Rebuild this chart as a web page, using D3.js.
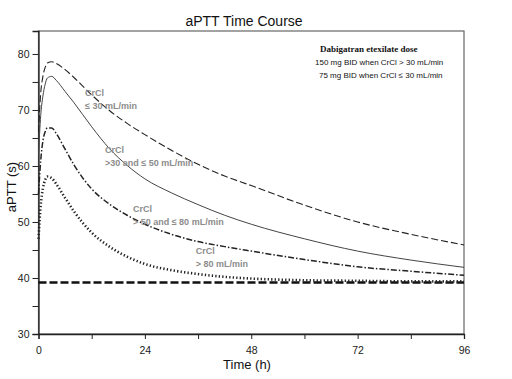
<!DOCTYPE html>
<html>
<head>
<meta charset="utf-8">
<script src="https://cdn.jsdelivr.net/npm/d3@7"></script>
<style>
  body { margin: 0; background: #fff; }
</style>
</head>
<body>
<svg id="chart" width="512" height="379" font-family='Arial, "Liberation Sans", sans-serif'></svg>
<script>
// Time points (h) shared by all curves
const hours = [0, 0.5, 1, 1.5, 2, 3, 4, 6, 8, 12, 16, 20, 24, 30, 36, 42, 48, 60, 72, 84, 96];

// aPTT (s) per renal function group
const crclLe30  = [66, 73, 76, 77.6, 78.4, 78.6, 78.3, 77.2, 75.8, 72.7, 69.9, 67.6, 65.6, 62.8, 60.3, 58.2, 56.5, 53.0, 50.0, 47.8, 45.9];
const crcl30_50 = [62, 69, 72.5, 74.6, 75.7, 76.0, 75.3, 73.3, 71.3, 67.0, 63.1, 60.1, 57.7, 55.2, 53.1, 51.2, 49.6, 47.0, 44.8, 43.2, 41.9];
const crcl50_80 = [55, 61, 64.5, 66.1, 66.8, 66.8, 65.8, 63.0, 60.2, 55.9, 53.2, 51.2, 49.6, 47.8, 46.5, 45.6, 44.8, 43.3, 42.0, 41.2, 40.5];
const crclGt80  = [47, 53, 56, 57.5, 58.1, 57.8, 56.8, 54.3, 51.9, 48.1, 45.6, 43.8, 42.5, 41.4, 40.7, 40.2, 39.9, 39.6, 39.5, 39.4, 39.4];
const baseline  = 39.2;   // pre-dose aPTT

// Axis ticks
const xTicks = [0, 12, 24, 36, 48, 60, 72, 84, 96];
const yTicks = [30, 35, 40, 45, 50, 55, 60, 65, 70, 75, 80];

// Curve labels
const labelText = [
  ['CrCl', '\u2264 30 mL/min'],
  ['CrCl', '>30 and \u2264 50 mL/min'],
  ['CrCl', '> 50 and \u2264 80 mL/min'],
  ['CrCl', '> 80 mL/min']
];
const labelAt = [[10.5, 72.5], [15, 62.3], [21.3, 51.8], [35.5, 44.3]];   // (h, s) of first line

const svg = d3.select('#chart');

const x = d3.scaleLinear().domain([0, 96]).range([38.5, 464]);
const y = d3.scaleLinear().domain([30, 84.1]).range([334, 31]);

// Plot frame
svg.append('rect')
  .attr('x', x(0)).attr('y', y(84.1))
  .attr('width', x(96) - x(0)).attr('height', y(30) - y(84.1))
  .attr('fill', 'none').attr('stroke', '#666').attr('stroke-width', 1.2);

// Axes
const xAxis = svg.append('g')
  .attr('transform', 'translate(0,' + y(30) + ')')
  .call(d3.axisBottom(x).tickValues(xTicks).tickSize(5).tickPadding(8)
    .tickFormat(d => d % 24 === 0 ? d : ''));
const yAxis = svg.append('g')
  .attr('transform', 'translate(' + x(0) + ',0)')
  .call(d3.axisLeft(y).tickValues(yTicks).tickSize(6).tickPadding(3)
    .tickFormat(d => d % 10 === 0 ? d : ''));

[xAxis, yAxis].forEach(function(g) {
  g.attr('font-family', 'Arial, "Liberation Sans", sans-serif');
  g.select('.domain').attr('stroke', '#222').attr('stroke-width', 1.3);
  g.selectAll('.tick line').attr('stroke', '#222');
  g.selectAll('.tick text').attr('font-size', 10.5).attr('fill', '#222');
});

// Baseline
svg.append('line')
  .attr('x1', x(0)).attr('x2', x(96))
  .attr('y1', y(baseline)).attr('y2', y(baseline))
  .attr('stroke', '#111').attr('stroke-width', 2.6)
  .attr('stroke-dasharray', '8,3');

// Curves
const line = d3.line()
  .x((d, i) => x(hours[i]))
  .y(d => y(d))
  .curve(d3.curveMonotoneX);

const curves = [
  { v: crclLe30,  dash: '7,3',       w: 1.1, c: '#222' },
  { v: crcl30_50, dash: null,        w: 1.0, c: '#444' },
  { v: crcl50_80, dash: '6,2,1.5,2', w: 1.5, c: '#222' },
  { v: crclGt80,  dash: '1.3,2.2',   w: 2.6, c: '#222' }
];

curves.forEach(function(s) {
  svg.append('path')
    .datum(s.v)
    .attr('d', line)
    .attr('fill', 'none')
    .attr('stroke', s.c)
    .attr('stroke-width', s.w)
    .attr('stroke-dasharray', s.dash);
});

// Curve labels
labelText.forEach(function(lines, i) {
  const t = svg.append('text')
    .attr('x', x(labelAt[i][0])).attr('y', y(labelAt[i][1]))
    .attr('font-size', 9).attr('font-weight', 'bold').attr('fill', '#8c8c8c');
  lines.forEach(function(s, j) {
    t.append('tspan').attr('x', x(labelAt[i][0])).attr('dy', j ? 13 : 0).text(s);
  });
});

// Dose note
svg.append('text')
  .attr('x', 320).attr('y', 52)
  .attr('font-family', '"Liberation Serif", "DejaVu Serif", serif')
  .attr('font-size', 9).attr('font-weight', 'bold').attr('fill', '#111')
  .text('Dabigatran etexilate  dose');
svg.append('text')
  .attr('x', 315).attr('y', 65)
  .attr('font-size', 8).attr('fill', '#111')
  .text('150 mg BID when CrCl > 30 mL/min');
svg.append('text')
  .attr('x', 319).attr('y', 78)
  .attr('font-size', 8).attr('fill', '#111')
  .text('75 mg BID when CrCl \u2264 30 mL/min');

// Titles
svg.append('text')
  .attr('x', 244).attr('y', 26).attr('text-anchor', 'middle')
  .attr('font-size', 14).attr('fill', '#111')
  .text('aPTT Time Course');
svg.append('text')
  .attr('x', 247).attr('y', 369).attr('text-anchor', 'middle')
  .attr('font-size', 13).attr('fill', '#111')
  .text('Time (h)');
svg.append('text')
  .attr('transform', 'translate(16,' + 187 + ') rotate(-90)')
  .attr('text-anchor', 'middle')
  .attr('font-size', 13).attr('fill', '#111')
  .text('aPTT (s)');
</script>
</body>
</html>
